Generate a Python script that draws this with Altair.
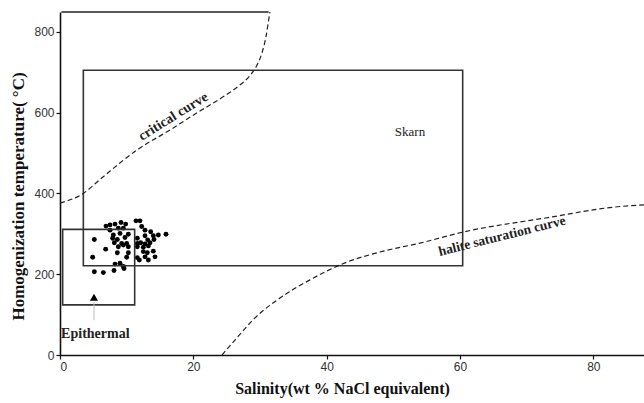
import altair as alt
import pandas as pd

# Fluid inclusion data (salinity wt% NaCl eq., homogenization temperature °C)
salinity = [6.9, 7.5, 8.25, 9.15, 9.85, 11.4, 12.0, 7.5, 8.75, 9.5, 12.25, 12.75,
            8.0, 9.0, 10.25, 13.6, 14.75, 15.9, 14.0, 5.15, 7.9, 8.6, 9.75, 11.6,
            12.75, 13.15, 14.1, 8.15, 9.25, 10.0, 10.25, 11.6, 12.1, 13.5, 12.75,
            6.85, 8.75, 9.5, 11.6, 12.5, 13.25, 8.6, 10.25, 12.5, 13.1, 14.0, 4.9,
            10.0, 11.6, 11.9, 12.75, 14.25, 13.25, 8.25, 9.5, 9.0, 5.15, 6.5, 8.1, 9.6]
temperature = [319, 322, 324, 328, 324, 332, 332, 309, 314, 314, 318, 309,
               297, 301, 299, 305, 297, 299, 295, 286, 289, 286, 291, 289,
               295, 285, 286, 278, 276, 276, 268, 276, 278, 278, 275,
               262, 268, 272, 268, 267, 270, 253, 253, 256, 253, 257, 242,
               242, 241, 235, 243, 243, 235, 225, 219, 227, 206, 204, 209, 214]

# Critical curve
crit_x = [0, 3.5, 6.25, 11.5, 16.5, 20.5, 24.75, 26.8, 28.4, 29.5, 30.3, 30.9, 31.4, 31.9]
crit_y = [376, 400, 438, 507, 557, 599, 642, 666, 690, 716, 748, 788, 840, 890]

# Halite saturation curve
hal_x = [24.3, 26.25, 29.25, 33.0, 37.5, 42.75, 48.0, 54.0, 60.4, 73.9, 82.0, 90.0]
hal_y = [0, 37, 92, 141, 186, 228, 255, 277, 304, 342, 364, 374]

# Field boxes
box_names = ["Skarn", "Epithermal"]
box_x1 = [3.5, 0.4]
box_x2 = [60.4, 11.2]
box_y1 = [221, 124]
box_y2 = [705, 311]

# Annotations
label_text = ["Skarn", "Epithermal"]
label_x = [52.5, 5.3]
label_y = [552, 51]

curve_label_text = ["critical curve", "halite saturation curve"]
curve_label_x = [17.0, 66.3]
curve_label_y = [590, 294]

tri_x = [5.1]
tri_y = [143]

x_ticks = [0, 20, 40, 60, 80]
y_ticks = [0, 200, 400, 600, 800]

xs = alt.Scale(domain=[0, 87.6], nice=False, zero=False)
ys = alt.Scale(domain=[0, 849], nice=False, zero=False)

pts = pd.DataFrame({"s": salinity, "t": temperature})
crit = pd.DataFrame({"x": crit_x, "y": crit_y})
hal = pd.DataFrame({"x": hal_x, "y": hal_y})
boxes = pd.DataFrame({"name": box_names, "x1": box_x1, "x2": box_x2, "y1": box_y1, "y2": box_y2})
labels = pd.DataFrame({"text": label_text, "x": label_x, "y": label_y})
clabels = pd.DataFrame({"text": curve_label_text, "x": curve_label_x, "y": curve_label_y})
tri = pd.DataFrame({"x": tri_x, "y": tri_y})

serif = "Liberation Serif"


def X(f):
    return alt.X(f, scale=xs)


def Y(f):
    return alt.Y(f, scale=ys)


scatter = alt.Chart(pts).mark_circle(size=24, color="black", opacity=1).encode(
    x=alt.X("s:Q", scale=xs, axis=alt.Axis(
        values=x_ticks, title="Salinity(wt % NaCl equivalent)", grid=False,
        titleX=282, titleY=33, titleBaseline="middle", titleAlign="center")),
    y=alt.Y("t:Q", scale=ys, axis=alt.Axis(
        values=y_ticks, title="Homogenization temperature( °C)", grid=False,
        titleX=-42, titleY=184, titleAngle=270, titleBaseline="middle", titleAlign="center",
        titleFontSize=17)),
)

crit_line = alt.Chart(crit).mark_line(
    color="#222", strokeDash=[5, 3], strokeWidth=1.2, interpolate="monotone", clip=True
).encode(x=X("x:Q"), y=Y("y:Q"))

hal_line = alt.Chart(hal).mark_line(
    color="#222", strokeDash=[5, 3], strokeWidth=1.2, interpolate="monotone", clip=True
).encode(x=X("x:Q"), y=Y("y:Q"))

box_layer = alt.Chart(boxes).mark_rect(
    filled=False, stroke="#333", strokeWidth=1.6
).encode(x=X("x1:Q"), x2="x2:Q", y=Y("y1:Q"), y2="y2:Q")

top_line = alt.Chart(pd.DataFrame({"x": [0.2], "x2": [31.3], "y": [849]})).mark_rule(
    color="#222", strokeWidth=1.5
).encode(x=X("x:Q"), x2="x2:Q", y=Y("y:Q"))

pointer = alt.Chart(pd.DataFrame({"x": [5.1], "y": [86], "y2": [131]})).mark_rule(
    color="#bbbbbb", strokeWidth=1
).encode(x=X("x:Q"), y=Y("y:Q"), y2="y2:Q")

tri_layer = alt.Chart(tri).mark_point(
    shape="triangle-up", filled=True, color="black", size=65, opacity=1
).encode(x=X("x:Q"), y=Y("y:Q"))

skarn_label = alt.Chart(labels[labels["text"] == "Skarn"]).mark_text(
    font=serif, fontSize=13, color="#222"
).encode(x=X("x:Q"), y=Y("y:Q"), text="text:N")

epi_label = alt.Chart(labels[labels["text"] == "Epithermal"]).mark_text(
    font=serif, fontSize=14, fontWeight="bold", color="#222"
).encode(x=X("x:Q"), y=Y("y:Q"), text="text:N")

crit_label = alt.Chart(clabels[clabels["text"] == "critical curve"]).mark_text(
    font=serif, fontSize=14, fontWeight="bold", color="#222", angle=328
).encode(x=X("x:Q"), y=Y("y:Q"), text="text:N")

hal_label = alt.Chart(clabels[clabels["text"] == "halite saturation curve"]).mark_text(
    font=serif, fontSize=13.5, fontWeight="bold", color="#222", angle=346
).encode(x=X("x:Q"), y=Y("y:Q"), text="text:N")

chart = alt.layer(
    scatter, box_layer, top_line, crit_line, hal_line, pointer, tri_layer,
    skarn_label, epi_label, crit_label, hal_label
).properties(
    width=584, height=343,
    autosize=alt.AutoSizeParams(type="none"),
    padding={"left": 60, "top": 12, "right": 0, "bottom": 48},
    background="white",
).configure_view(stroke=None).configure_axis(
    domainColor="#111", domainWidth=1.6, tickColor="#111", tickSize=4, tickWidth=1.2,
    labelFont="Liberation Sans", labelFontSize=12, labelColor="#333", labelPadding=2,
    titleFont=serif, titleFontSize=16, titleFontWeight="bold", titleColor="#111",
)

chart.save("out.html", embed_options={"renderer": "svg", "actions": False})
